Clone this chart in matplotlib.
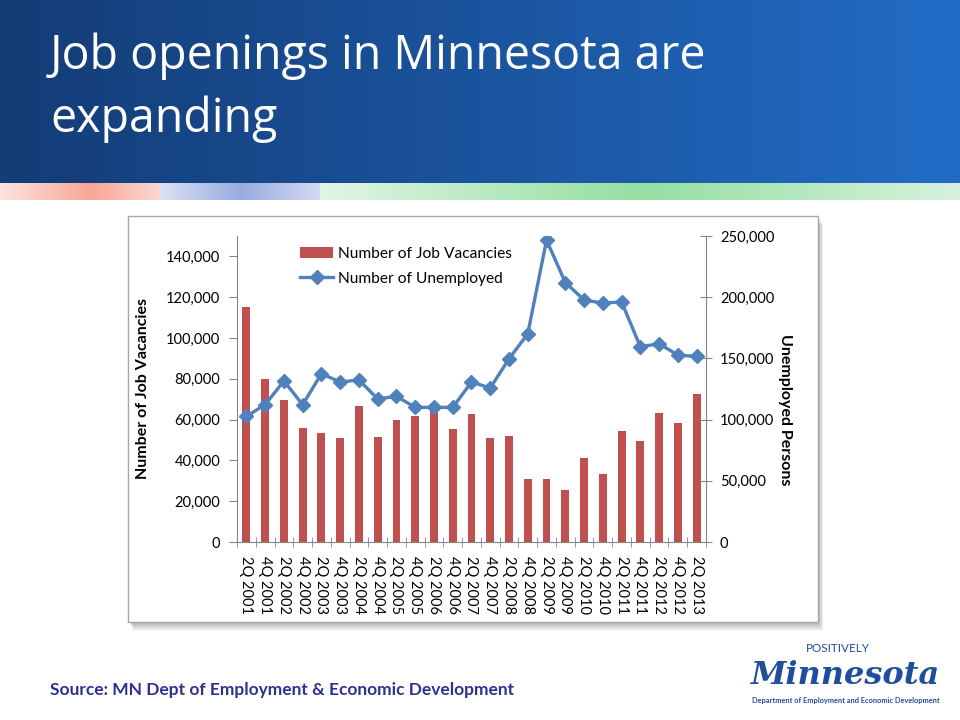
import numpy as np
import matplotlib
matplotlib.use("Agg")
import matplotlib.pyplot as plt
from matplotlib.patches import Rectangle, Patch
from matplotlib.lines import Line2D

# data
quarters = ["2Q 2001", "4Q 2001", "2Q 2002", "4Q 2002", "2Q 2003", "4Q 2003",
            "2Q 2004", "4Q 2004", "2Q 2005", "4Q 2005", "2Q 2006", "4Q 2006",
            "2Q 2007", "4Q 2007", "2Q 2008", "4Q 2008", "2Q 2009", "4Q 2009",
            "2Q 2010", "4Q 2010", "2Q 2011", "4Q 2011", "2Q 2012", "4Q 2012",
            "2Q 2013"]
vacancies = [115000, 79800, 69600, 56100, 53200, 50800, 66800, 51300, 59800,
             61800, 65500, 55600, 62500, 50800, 51800, 30900, 30900, 25500,
             41000, 33300, 54500, 49500, 63100, 58500, 72600]
unemployed = [102700, 112200, 131600, 112200, 137500, 130700, 132400, 116900,
              119000, 110000, 110000, 110000, 130700, 125800, 149700, 170100,
              246700, 212000, 197800, 195100, 196200, 159500, 162000, 152700,
              151600]

title = "Job openings in Minnesota are\nexpanding"
source = "Source: MN Dept of Employment & Economic Development"

plt.rcParams["font.family"] = ["Lato", "DejaVu Sans"]

W, H = 960, 720
fig = plt.figure(figsize=(9.6, 7.2), dpi=100)
fig.patch.set_facecolor("white")

def fx(px):
    return px / W

def fy(py):
    return 1 - py / H

# ---- header gradient
hdr = fig.add_axes([0, fy(183), 1, 183 / H])
t = np.linspace(0, 1, 300)
c0 = np.array([20, 60, 118]) / 255
c1 = np.array([34, 108, 198]) / 255
img = c0[None, :] + (c1 - c0)[None, :] * t[:, None]
hdr.imshow(img[None, :, :], aspect="auto", extent=[0, 1, 0, 1])
hdr.axis("off")

# ---- coloured stripe under header
strip = fig.add_axes([0, fy(200), 1, 17 / H])
xs = np.arange(W)
keys_x = [0, 90, 159, 160, 240, 319, 320, 640, 959]
keys_c = np.array([[253, 228, 224], [249, 166, 150], [252, 214, 208],
                   [220, 225, 244], [152, 172, 224], [212, 216, 242],
                   [225, 245, 230], [148, 223, 160], [215, 242, 222]]) / 255
simg = np.stack([np.interp(xs, keys_x, keys_c[:, k]) for k in range(3)], axis=1)
strip.imshow(simg[None, :, :], aspect="auto", extent=[0, 1, 0, 1])
strip.axis("off")

fig.text(fx(50), fy(88), title, color="white", fontsize=33.5, va="center",
         ha="left", linespacing=1.42, family=["Open Sans", "DejaVu Sans"])

# ---- chart card with soft shadow
for k in range(8):
    off = 2 + k
    fig.patches.append(Rectangle((fx(128 + off * 0.6), fy(622 + off)),
                                 fx(690), 406 / H, transform=fig.transFigure,
                                 facecolor="black", alpha=0.035, edgecolor="none",
                                 zorder=0))
fig.patches.append(Rectangle((fx(128), fy(622)), fx(690), 406 / H,
                             transform=fig.transFigure, facecolor="white",
                             edgecolor="#a6a6a6", lw=1, zorder=1))

# ---- chart
ax = fig.add_axes([fx(237), fy(542), fx(706 - 237), (542 - 236) / H])
ax.set_zorder(2)
ax.patch.set_visible(False)
x = np.arange(len(quarters))
bar_c = "#c0504d"
line_c = "#4f81bd"
ax.bar(x, vacancies, width=0.42, color=bar_c, zorder=2)
ax.set_xlim(-0.5, len(quarters) - 0.5)
ax.set_ylim(0, 150000)
ax.set_yticks(np.arange(0, 140001, 20000))
ax.set_yticklabels([f"{v:,}" for v in range(0, 140001, 20000)])
ax.set_xticks(x)
ax.set_xticklabels(quarters, rotation=270, fontsize=10.5)
ax.set_xticks(np.arange(-0.5, len(quarters)), minor=True)
ax.tick_params(axis="x", which="major", length=0, pad=10)
ax.tick_params(axis="x", which="minor", length=7, direction="inout",
               color="#868686")
ax.tick_params(axis="y", length=6, direction="out", color="#868686",
               labelsize=10.5, pad=6)
for s in ["top", "right"]:
    ax.spines[s].set_visible(False)
for s in ["left", "bottom"]:
    ax.spines[s].set_color("#868686")
ax.set_ylabel("Number of Job Vacancies", fontsize=11.5, fontweight="bold")
ax.yaxis.set_label_coords(-0.1855, 0.503)

ax2 = ax.twinx()
ax2.set_zorder(3)
ax2.plot(x, unemployed, color=line_c, lw=2.4, marker="D", markersize=7.5,
         markerfacecolor=line_c, markeredgecolor=line_c)
ax2.set_ylim(0, 250000)
ax2.set_yticks(np.arange(0, 250001, 50000))
ax2.set_yticklabels([f"{v:,}" for v in range(0, 250001, 50000)])
ax2.tick_params(axis="y", length=8, direction="inout", color="#868686",
                labelsize=10.5, pad=6)
for s in ["top", "left", "bottom"]:
    ax2.spines[s].set_visible(False)
ax2.spines["right"].set_color("#868686")
ax2.set_ylabel("Unemployed Persons", fontsize=11.5, fontweight="bold",
               rotation=270)
ax2.yaxis.set_label_coords(1.183, 0.431)

handles = [Patch(facecolor=bar_c, edgecolor="none"),
           Line2D([0], [0], color=line_c, lw=2.4, marker="D", markersize=7.5)]
ax2.legend(handles, ["Number of Job Vacancies", "Number of Unemployed"],
           loc="upper left", bbox_to_anchor=(0.135, 0.965), frameon=False,
           fontsize=11.2, handlelength=2.1, handletextpad=0.35,
           labelspacing=0.72, borderpad=0, borderaxespad=0)

# ---- footer
fig.text(fx(50), fy(690), source, color="#2e3192", fontsize=12.5,
         fontweight="bold", va="center", ha="left")
logo_c = "#1f4e9c"
fig.text(fx(838), fy(648), "POSITIVELY", color=logo_c, fontsize=8.5,
         ha="center", va="center")
fig.text(fx(846), fy(675), "Minnesota", color=logo_c, fontsize=23,
         ha="center", va="center", style="italic", fontweight="bold",
         family=["DejaVu Serif"])
fig.text(fx(846), fy(701), "Department of Employment and Economic Development",
         color=logo_c, fontsize=5.3, fontweight="bold", ha="center", va="center")

fig.savefig("out.png", dpi=100)
